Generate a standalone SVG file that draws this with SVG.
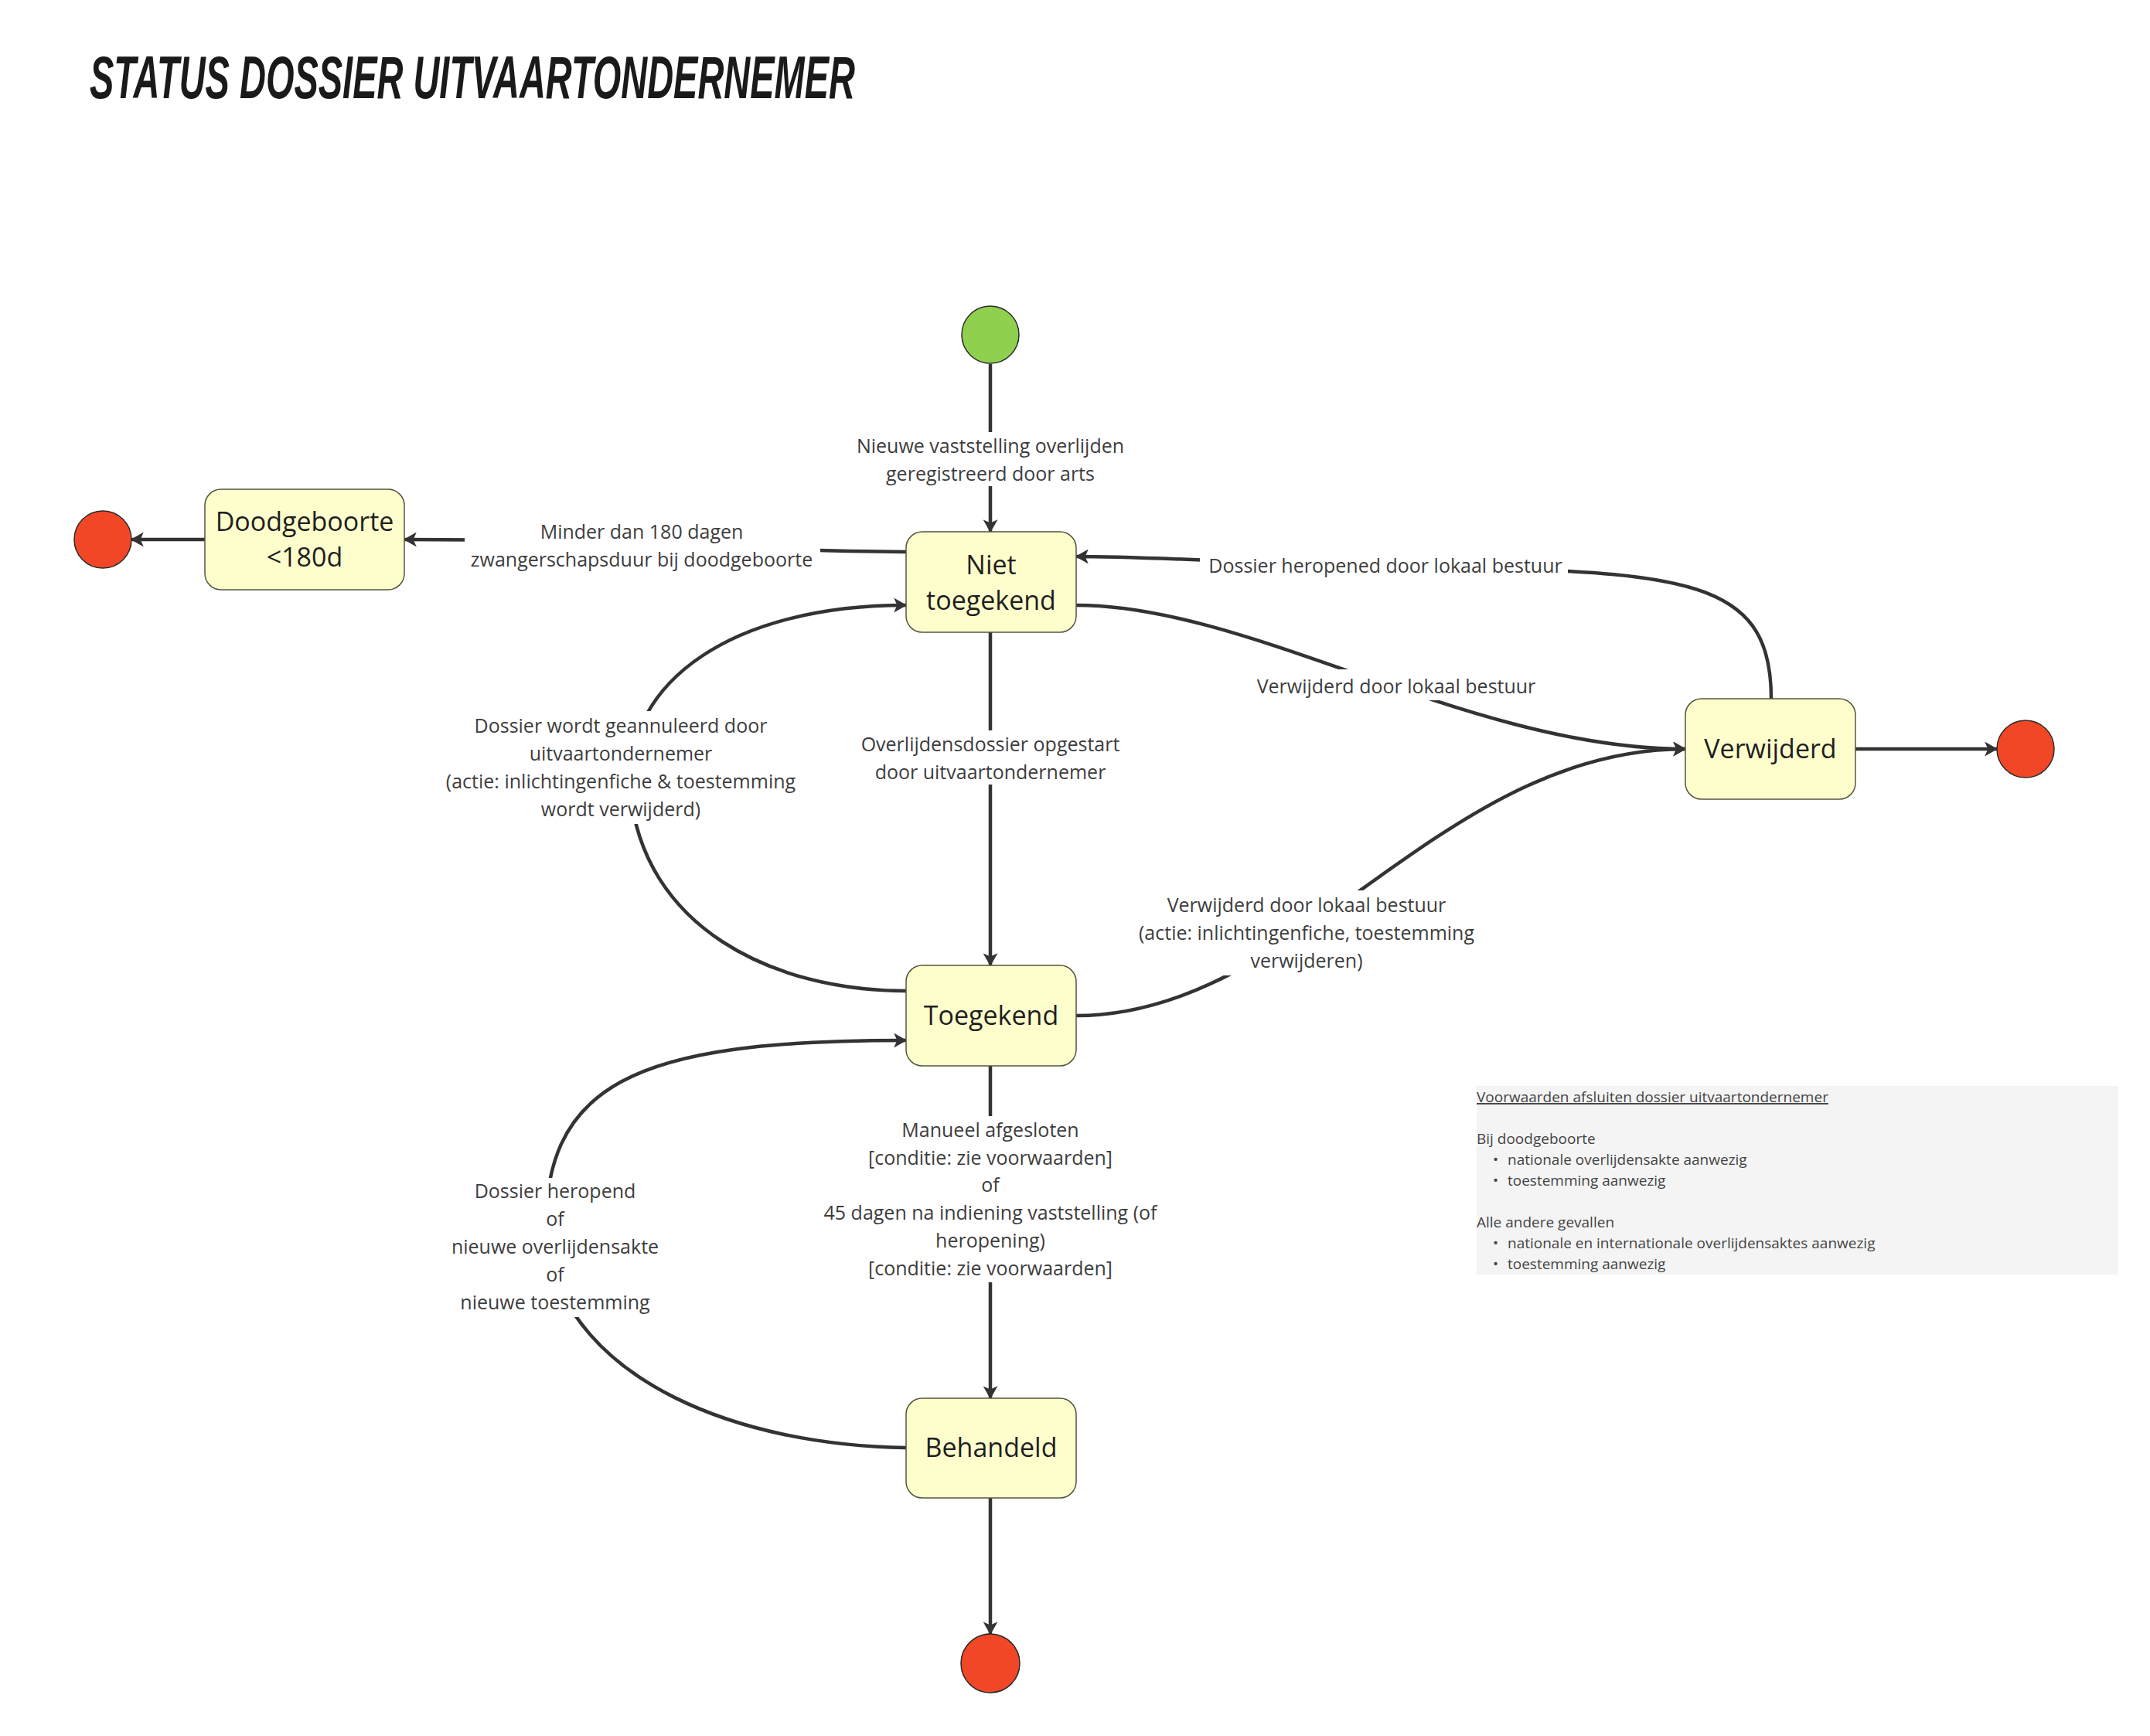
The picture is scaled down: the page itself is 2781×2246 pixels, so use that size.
<svg xmlns="http://www.w3.org/2000/svg" width="2781" height="2246" viewBox="0 0 2781 2246">
<defs>
<style>
.conn{fill:none;stroke:#333333;stroke-width:4.5;marker-end:url(#arr)}
.lbl{font-family:"Open Sans","Liberation Sans",sans-serif;font-size:25px;fill:#3d3d3d;text-anchor:middle}
.bg{fill:#ffffff}
.node{fill:#fefecc;stroke:#55553f;stroke-width:1.5}
.ntxt{font-family:"Open Sans","Liberation Sans",sans-serif;font-size:34px;fill:#1f1f1f;text-anchor:middle}
.start{fill:#8fd14f;stroke:#2a2a2a;stroke-width:1.5}
.end{fill:#f24726;stroke:#2a2a2a;stroke-width:1.5}
.note{font-family:"Open Sans","Liberation Sans",sans-serif;font-size:19px;fill:#444444}
</style>
<marker id="arr" viewBox="0 0 16 18" markerWidth="17" markerHeight="19" markerUnits="userSpaceOnUse" refX="15" refY="9" orient="auto">
<path d="M0,0 L16,9 L0,18 L4,9 z" fill="#333333"/>
</marker>
</defs>
<rect x="0" y="0" width="2781" height="2246" fill="#ffffff"/>
<text x="116" y="127" font-family="'Liberation Sans',Arial,sans-serif" font-weight="bold" font-style="italic" font-size="78" fill="#1a1a1a" textLength="990" lengthAdjust="spacingAndGlyphs">STATUS DOSSIER UITVAARTONDERNEMER</text>

<g id="connectors">
<path class="conn" d="M1281,471 L1281,688"/>
<path class="conn" d="M1172,714 C900,712 800,698 523,698"/>
<path class="conn" d="M265,698 L170,698"/>
<path class="conn" d="M2291,904 C2291,760 2200,740 1900,735 C1650,731 1500,720 1392,720"/>
<path class="conn" d="M1392,783 C1620,783 1900,969 2180,969"/>
<path class="conn" d="M2400,969 L2583,969"/>
<path class="conn" d="M1281,818 L1281,1249"/>
<path class="conn" d="M1172,1282 C1000,1282 830,1200 815,1020 C808,880 950,783 1172,783"/>
<path class="conn" d="M1392,1314 C1680,1314 1860,969 2180,969"/>
<path class="conn" d="M1281,1379 L1281,1809"/>
<path class="conn" d="M1172,1873 C960,1870 740,1790 706,1610 C698,1400 820,1346 1172,1346"/>
<path class="conn" d="M1281,1938 L1281,2114"/>
</g>

<g id="labels">
<g id="lbl-nieuwe">
<rect class="bg" x="1098" y="559" width="366" height="70"/>
<text class="lbl" x="1281" y="586">Nieuwe vaststelling overlijden</text>
<text class="lbl" x="1281" y="622">geregistreerd door arts</text>
</g>
<g id="lbl-minder">
<rect class="bg" x="601" y="664" width="460" height="74"/>
<text class="lbl" x="830" y="697">Minder dan 180 dagen</text>
<text class="lbl" x="830" y="733">zwangerschapsduur bij doodgeboorte</text>
</g>
<g id="lbl-heropened">
<rect class="bg" x="1552" y="712" width="476" height="40"/>
<text class="lbl" x="1792" y="741">Dossier heropened door lokaal bestuur</text>
</g>
<g id="lbl-verw1">
<rect class="bg" x="1618" y="866" width="376" height="40"/>
<text class="lbl" x="1806" y="897">Verwijderd door lokaal bestuur</text>
</g>
<g id="lbl-overlijdensdossier">
<rect class="bg" x="1108" y="945" width="346" height="70"/>
<text class="lbl" x="1281" y="972">Overlijdensdossier opgestart</text>
<text class="lbl" x="1281" y="1008">door uitvaartondernemer</text>
</g>
<g id="lbl-geannuleerd">
<rect class="bg" x="568" y="920" width="470" height="146"/>
<text class="lbl" x="803" y="948">Dossier wordt geannuleerd door</text>
<text class="lbl" x="803" y="984">uitvaartondernemer</text>
<text class="lbl" x="803" y="1020">(actie: inlichtingenfiche &amp; toestemming</text>
<text class="lbl" x="803" y="1056">wordt verwijderd)</text>
</g>
<g id="lbl-verw2">
<rect class="bg" x="1466" y="1152" width="448" height="110"/>
<text class="lbl" x="1690" y="1180">Verwijderd door lokaal bestuur</text>
<text class="lbl" x="1690" y="1216">(actie: inlichtingenfiche, toestemming</text>
<text class="lbl" x="1690" y="1252">verwijderen)</text>
</g>
<g id="lbl-manueel">
<rect class="bg" x="1058" y="1444" width="446" height="215"/>
<text class="lbl" x="1281" y="1471">Manueel afgesloten</text>
<text class="lbl" x="1281" y="1507">[conditie: zie voorwaarden]</text>
<text class="lbl" x="1281" y="1542">of</text>
<text class="lbl" x="1281" y="1578">45 dagen na indiening vaststelling (of</text>
<text class="lbl" x="1281" y="1614">heropening)</text>
<text class="lbl" x="1281" y="1650">[conditie: zie voorwaarden]</text>
</g>
<g id="lbl-heropend">
<rect class="bg" x="580" y="1524" width="278" height="180"/>
<text class="lbl" x="718" y="1550">Dossier heropend</text>
<text class="lbl" x="718" y="1586">of</text>
<text class="lbl" x="718" y="1622">nieuwe overlijdensakte</text>
<text class="lbl" x="718" y="1658">of</text>
<text class="lbl" x="718" y="1694">nieuwe toestemming</text>
</g>
</g>

<g id="start">
<circle class="start" cx="1281" cy="433" r="37"/>
</g>
<g id="niet-toegekend">
<rect class="node" x="1172" y="688" width="220" height="130" rx="21"/>
<text class="ntxt" x="1282" y="743">Niet</text>
<text class="ntxt" x="1282" y="789">toegekend</text>
</g>
<g id="doodgeboorte">
<rect class="node" x="265" y="633" width="258" height="130" rx="21"/>
<text class="ntxt" x="394" y="687">Doodgeboorte</text>
<text class="ntxt" x="394" y="733">&lt;180d</text>
</g>
<g id="end-doodgeboorte">
<circle class="end" cx="133" cy="698" r="37"/>
</g>
<g id="verwijderd">
<rect class="node" x="2180" y="904" width="220" height="130" rx="21"/>
<text class="ntxt" x="2290" y="981">Verwijderd</text>
</g>
<g id="end-verwijderd">
<circle class="end" cx="2620" cy="969" r="37"/>
</g>
<g id="toegekend">
<rect class="node" x="1172" y="1249" width="220" height="130" rx="21"/>
<text class="ntxt" x="1282" y="1326">Toegekend</text>
</g>
<g id="behandeld">
<rect class="node" x="1172" y="1809" width="220" height="129" rx="21"/>
<text class="ntxt" x="1282" y="1885">Behandeld</text>
</g>
<g id="end-behandeld">
<circle class="end" cx="1281" cy="2152" r="38"/>
</g>

<g id="note">
<rect x="1910" y="1405" width="830" height="244" fill="#f4f4f4"/>
<text class="note" x="1910" y="1426" text-decoration="underline">Voorwaarden afsluiten dossier uitvaartondernemer</text>
<text class="note" x="1910" y="1480">Bij doodgeboorte</text>
<text class="note" x="1931" y="1507">•</text>
<text class="note" x="1950" y="1507">nationale overlijdensakte aanwezig</text>
<text class="note" x="1931" y="1534">•</text>
<text class="note" x="1950" y="1534">toestemming aanwezig</text>
<text class="note" x="1910" y="1588">Alle andere gevallen</text>
<text class="note" x="1931" y="1615">•</text>
<text class="note" x="1950" y="1615">nationale en internationale overlijdensaktes aanwezig</text>
<text class="note" x="1931" y="1642">•</text>
<text class="note" x="1950" y="1642">toestemming aanwezig</text>
</g>
</svg>
